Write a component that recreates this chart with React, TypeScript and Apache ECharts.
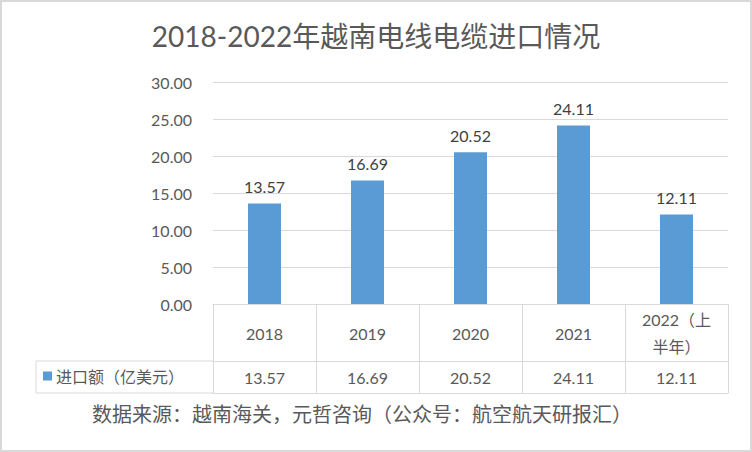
import React, { useEffect, useRef } from "react";
import * as echarts from "echarts";

const titleText = "2018-2022年越南电线电缆进口情况";
const categories = ["2018", "2019", "2020", "2021", "2022（上半年）"];
const seriesName = "进口额（亿美元）";
const importValues = [13.57, 16.69, 20.52, 24.11, 12.11];
const yTicks = { min: 0, max: 30, interval: 5 };
const sourceText = "数据来源：越南海关，元哲咨询（公众号：航空航天研报汇）";

const FONT = "Lato, 'Noto Sans CJK SC', sans-serif";
const CJK = "'Noto Sans CJK SC', sans-serif";
const GRAY = "#d9d9d9";
const TEXT = "#595959";

export default function App() {
  const ref = useRef<HTMLDivElement>(null);
  useEffect(() => {
    document.body.style.margin = "0";
    const chart = echarts.init(ref.current!, undefined, { renderer: "svg" });
    const fmtCat = (v: string) => v.replace("（上半年）", "（上\n半年）");
    chart.setOption({
      animation: false,
      backgroundColor: "#ffffff",
      textStyle: { fontFamily: FONT },
      title: {
        text: titleText,
        left: "center",
        top: 17,
        textStyle: { fontFamily: FONT, fontSize: 28, fontWeight: "normal", color: TEXT },
      },
      legend: {
        left: 43,
        top: 368,
        icon: "rect",
        itemWidth: 9,
        itemHeight: 9,
        itemGap: 4,
        padding: 0,
        textStyle: { fontFamily: FONT, fontSize: 16, color: TEXT, padding: [0, 0, 0, -1] },
        data: [seriesName],
      },
      grid: { left: 213, right: 24, top: 82, bottom: 148 },
      xAxis: [
        {
          type: "category",
          data: categories,
          position: "bottom",
          axisLine: { show: true, lineStyle: { color: GRAY, width: 1 } },
          axisTick: { show: true, length: 89, lineStyle: { color: GRAY, width: 1 } },
          axisLabel: {
            formatter: fmtCat,
            verticalAlign: "middle",
            margin: 29,
            lineHeight: 27,
            fontSize: 16,
            color: TEXT,
            fontFamily: FONT,
            interval: 0,
          },
        },
        {
          type: "category",
          data: importValues.map((v) => v.toFixed(2)),
          position: "bottom",
          offset: 57,
          axisLine: { show: true, lineStyle: { color: GRAY, width: 1 } },
          axisTick: { show: false },
          axisLabel: {
            verticalAlign: "middle",
            margin: 16,
            fontSize: 16,
            color: TEXT,
            fontFamily: FONT,
            interval: 0,
          },
        },
        {
          type: "category",
          data: categories,
          position: "bottom",
          offset: 89,
          axisLine: { show: true, lineStyle: { color: GRAY, width: 1 } },
          axisTick: { show: false },
          axisLabel: { show: false },
        },
      ],
      yAxis: {
        type: "value",
        min: yTicks.min,
        max: yTicks.max,
        interval: yTicks.interval,
        axisLine: { show: false },
        axisTick: { show: false },
        splitLine: { lineStyle: { color: GRAY, width: 1 } },
        axisLabel: {
          formatter: (v: number) => v.toFixed(2),
          margin: 21,
          fontSize: 16,
          color: TEXT,
          fontFamily: FONT,
        },
      },
      series: [
        {
          name: seriesName,
          type: "bar",
          xAxisIndex: 0,
          data: importValues,
          barWidth: 33,
          itemStyle: { color: "#5b9bd5" },
          label: {
            show: true,
            position: "top",
            distance: 9,
            formatter: (p: any) => Number(p.value).toFixed(2),
            fontSize: 16,
            color: "#404040",
            fontFamily: FONT,
          },
        },
      ],
      graphic: [
        {
          type: "rect",
          silent: true,
          shape: { x: 1, y: 1, width: 750, height: 450 },
          style: { fill: "none", stroke: GRAY, lineWidth: 2 },
        },
        {
          type: "line",
          silent: true,
          shape: { x1: 36, y1: 361, x2: 213, y2: 361 },
          style: { stroke: GRAY, lineWidth: 1 },
        },
        {
          type: "line",
          silent: true,
          shape: { x1: 36, y1: 393, x2: 213, y2: 393 },
          style: { stroke: GRAY, lineWidth: 1 },
        },
        {
          type: "line",
          silent: true,
          shape: { x1: 36, y1: 361, x2: 36, y2: 393 },
          style: { stroke: GRAY, lineWidth: 1 },
        },
        {
          type: "text",
          x: 362,
          y: 413,
          style: {
            text: sourceText,
            fontFamily: CJK,
            fontSize: 20,
            fill: TEXT,
            align: "center",
            verticalAlign: "middle",
          },
        },
      ],
    });
    return () => chart.dispose();
  }, []);
  return <div ref={ref} style={{ width: 752, height: 452 }} />;
}
